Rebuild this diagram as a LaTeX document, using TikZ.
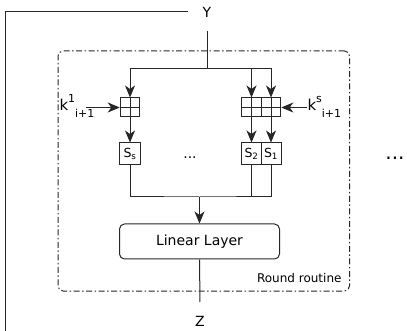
\documentclass[tikz,border=0pt]{standalone}
\usepackage{fontspec}
\setmainfont{DejaVu Sans}
\usetikzlibrary{arrows.meta,positioning,calc}

\newcommand{\keylabel}[1]{k\raisebox{8pt}{\fontsize{11}{13}\selectfont #1}\raisebox{-7pt}{\fontsize{11}{13}\selectfont i+1}}

\begin{document}
\begin{tikzpicture}[x=1pt, y=-1pt, line width=1pt, draw=black!85,
    xorbox/.style={draw, minimum width=19.5pt, minimum height=19pt, inner sep=0pt,
        path picture={\draw (path picture bounding box.north) -- (path picture bounding box.south)
            (path picture bounding box.west) -- (path picture bounding box.east);}},
    sbox/.style={draw, minimum width=20pt, minimum height=22pt, inner sep=0pt, font=\fontsize{12.5}{14}\selectfont},
    layer/.style={draw, rounded corners=5pt, minimum width=160pt, minimum height=35pt, font=\fontsize{14}{16}\selectfont},
    frame/.style={draw, rounded corners=5pt, dash pattern=on 6pt off 2.5pt on 1.5pt off 2.5pt, minimum width=291.5pt, minimum height=240pt},
    io/.style={minimum size=37pt, inner sep=0pt, font=\fontsize{14}{16}\selectfont},
    key/.style={inner sep=0pt, font=\fontsize{15}{17}\selectfont},
    arr/.style={-{Stealth[length=12pt, width=10pt, inset=3.5pt]}}
]
\useasboundingbox (0,0) rectangle (407,331);

\node[frame] (rr) at (203.75,171) {};
\node[anchor=south east, inner sep=0pt, font=\fontsize{12}{14}\selectfont] (rrlbl) at (342,283) {Round routine};

\node[io] (Y) at (207,12) {Y};
\node[io] (Z) at (200,321) {Z};
\coordinate (fbtop) at (5,12);
\coordinate (fbbot) at (5,331);
\coordinate (br) at (207,69);
\coordinate (mg) at (199.5,197);

\node[xorbox] (x1) at (130,107.5) {};
\node[xorbox] (x2) at (251.5,107.5) {};
\node[xorbox] (x3) at (271,107.5) {};

\node[sbox, minimum width=21pt] (Ss) at (130,154) {S\textsubscript{s}};
\node[sbox] (S2) at (251.5,154) {S\textsubscript{2}};
\node[sbox] (S1) at (271,154) {S\textsubscript{1}};
\node[font=\fontsize{14}{16}\selectfont] (dots) at (190,158) {...};
\node[font=\fontsize{20}{22}\selectfont] (more) at (395,158) {...};

\node[layer] (lin) at (199.5,241.5) {Linear Layer};

\node[key, anchor=base west] (k1) at (59,111) {\keylabel{1}};
\coordinate (k1in) at (86,107.5);
\node[key, anchor=base west] (ks) at (307,111) {\keylabel{s}};
\coordinate (ksin) at (307,107.5);

% feedback and input
\draw (Y.west) -- (fbtop) -- (fbbot);
\draw (Y) -- (br);
\draw[arr] (br) -| (x1);
\draw[arr] (br) -| (x2);
\draw[arr] (br) -| (x3);
\draw[arr] (k1in) -- (x1);
\draw[arr] (ksin) -- (x3);

% S-boxes
\draw[arr] (x1) -- (Ss);
\draw[arr] (x2) -- (S2);
\draw[arr] (x3) -- (S1);
\draw (Ss) |- (mg) -| (S1);
\draw (S2) -- (S2 |- mg);
\draw[arr] (mg) -- (lin);
\draw (lin) -- (Z);
\end{tikzpicture}
\end{document}
